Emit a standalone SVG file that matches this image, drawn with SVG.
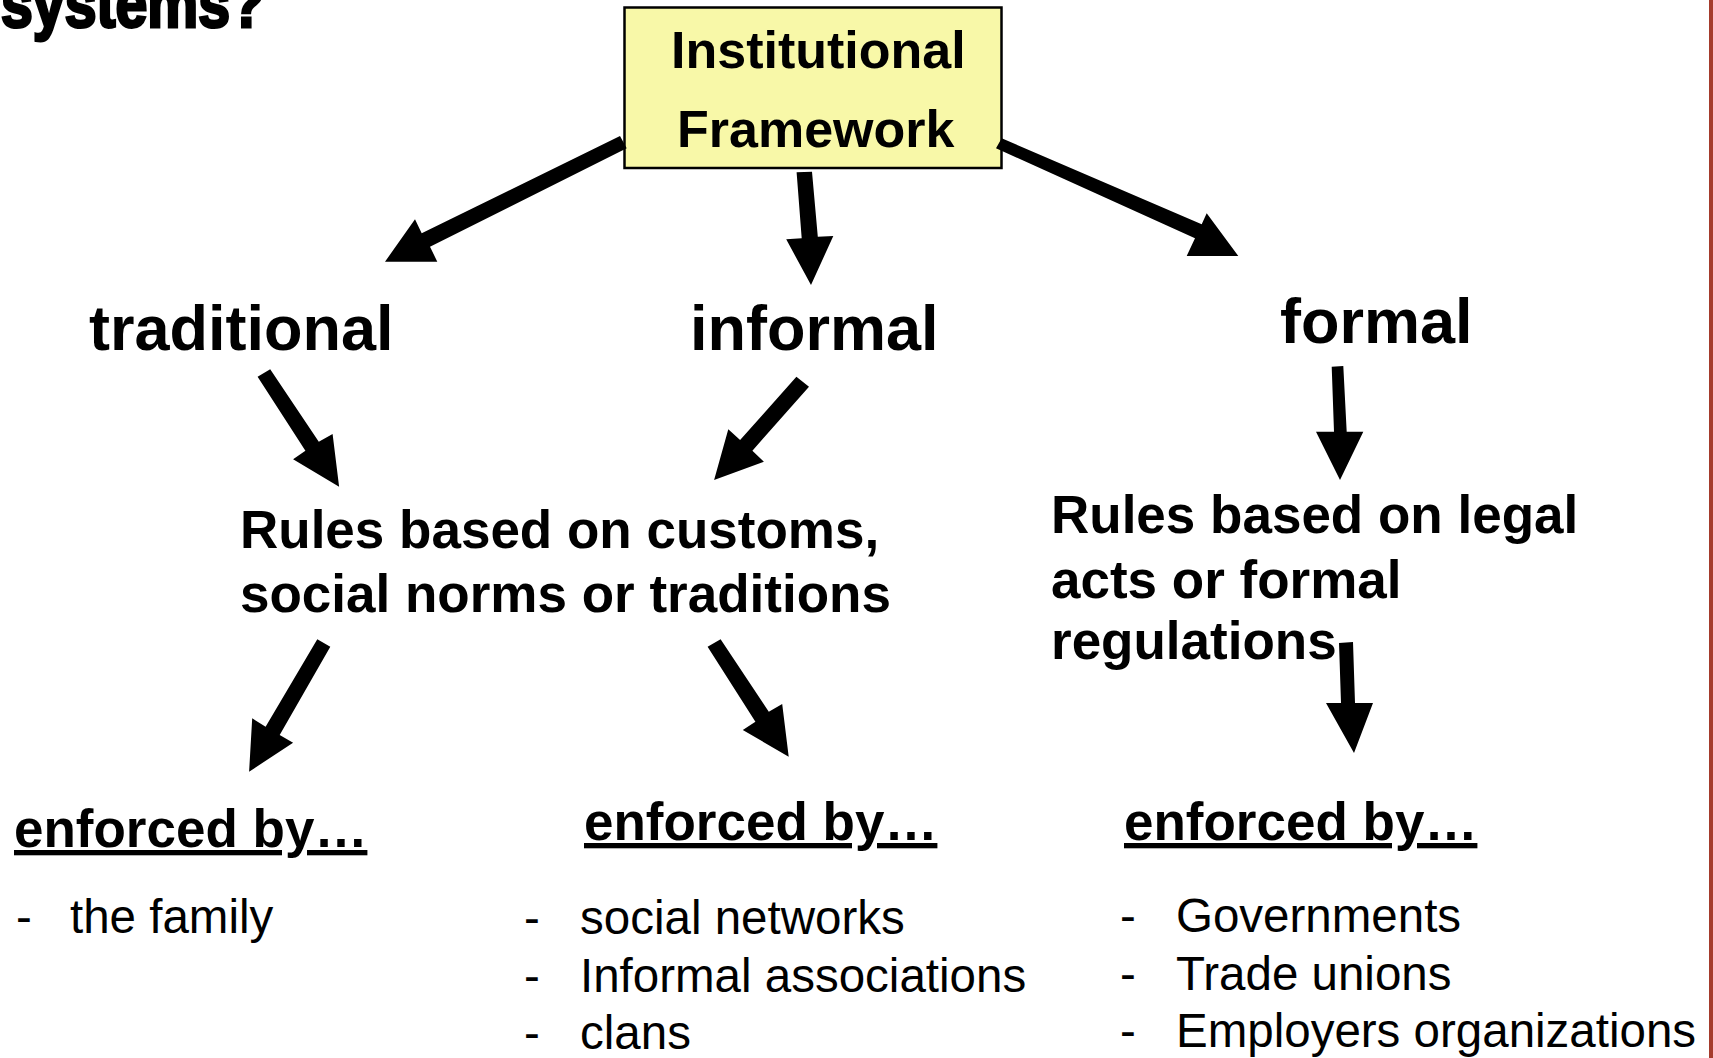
<svg xmlns="http://www.w3.org/2000/svg" width="1713" height="1058" viewBox="0 0 1713 1058">
<style>
  text { font-family: "Liberation Sans", Arial, sans-serif; fill: #000; }
  .b { font-weight: bold; }
  .node { font-size: 63px; font-weight: bold; }
  .rule { font-size: 53px; font-weight: bold; }
  .enf { font-size: 53px; font-weight: bold; text-decoration: underline; }
  .item { font-size: 47.5px; }
  .arrow { fill: #000; stroke: none; }
</style>
<rect x="0" y="0" width="1713" height="1058" fill="#ffffff"/>
<rect x="1709" y="0" width="4" height="1058" fill="#a53b2c"/>

<g id="title">
  <text x="1" y="27" font-size="68" font-weight="900" stroke="#000" stroke-width="3" textLength="264" lengthAdjust="spacingAndGlyphs">systems?</text>
</g>

<g id="node-institutional">
  <rect x="624.5" y="7.5" width="377" height="160.5" fill="#f8f8a8" stroke="#000" stroke-width="2.5"/>
  <text x="671" y="68" class="b" font-size="52">Institutional</text>
  <text x="677" y="147" class="b" font-size="52">Framework</text>
</g>

<g id="node-traditional"><text x="89" y="349.6" class="node">traditional</text></g>
<g id="node-informal"><text x="690" y="349.6" class="node">informal</text></g>
<g id="node-formal"><text x="1280" y="343" class="node">formal</text></g>

<g id="node-rules-customs">
  <text x="240" y="548.4" class="rule">Rules based on customs,</text>
  <text x="240" y="611.8" class="rule">social norms or traditions</text>
</g>

<g id="node-rules-legal">
  <text x="1051" y="533" class="rule">Rules based on legal</text>
  <text x="1051" y="597.6" class="rule">acts or formal</text>
  <text x="1051" y="659" class="rule">regulations</text>
</g>

<g id="node-enforced-left">
  <text x="14" y="847" class="enf">enforced by…</text>
  <text x="16" y="933" class="item">-</text>
  <text x="70" y="933" class="item">the family</text>
</g>

<g id="node-enforced-middle">
  <text x="584" y="840" class="enf">enforced by…</text>
  <text x="524" y="934" class="item">-</text>
  <text x="580" y="934" class="item">social networks</text>
  <text x="524" y="991.7" class="item">-</text>
  <text x="580" y="991.7" class="item">Informal associations</text>
  <text x="524" y="1048.5" class="item">-</text>
  <text x="580" y="1048.5" class="item">clans</text>
</g>

<g id="node-enforced-right">
  <text x="1124" y="840" class="enf">enforced by…</text>
  <text x="1120" y="932" class="item">-</text>
  <text x="1176" y="932" class="item">Governments</text>
  <text x="1120" y="990" class="item">-</text>
  <text x="1176" y="990" class="item">Trade unions</text>
  <text x="1120" y="1047" class="item">-</text>
  <text x="1176" y="1047" class="item">Employers organizations</text>
</g>

<g id="connectors">
  <polygon class="arrow" points="620,136 626.7,148.3 430,246.7 437.3,261.7 385,261.7 415,219.3 421.7,233.3"/>
  <polygon class="arrow" points="796.6,172.3 812,171.7 817.8,236.7 833.3,236 811,285 786.2,239.3 801.7,238.3"/>
  <polygon class="arrow" points="1001.7,138.3 1201.7,224.3 1206.7,213.3 1238.3,256 1186.7,256 1195,238.3 996,148.3"/>
  <polygon class="arrow" points="270.2,369.3 318.8,441.7 332.6,434 339.1,486.7 293.1,459.3 305.4,450.7 257.6,376.7"/>
  <polygon class="arrow" points="796.4,376.7 809,386.7 752.4,450.7 763.9,461.7 714.1,480 728.3,429.3 740.1,440"/>
  <polygon class="arrow" points="1331.7,366.7 1343.3,366 1346.7,431.7 1363.3,431.7 1340,480 1316,431.7 1334,431.7"/>
  <polygon class="arrow" points="317.3,639.3 330.3,646.7 279.7,735 293.1,742.7 249.1,771.7 252.2,718.3 265.6,726.7"/>
  <polygon class="arrow" points="720.6,639.3 768.8,711.7 782.2,704 788.7,756.7 742.8,730 755.4,721.7 707.6,646.7"/>
  <polygon class="arrow" points="1339,643 1353,642 1355,703 1373,703 1354,753 1326,703 1341,703"/>
</g>
</svg>
